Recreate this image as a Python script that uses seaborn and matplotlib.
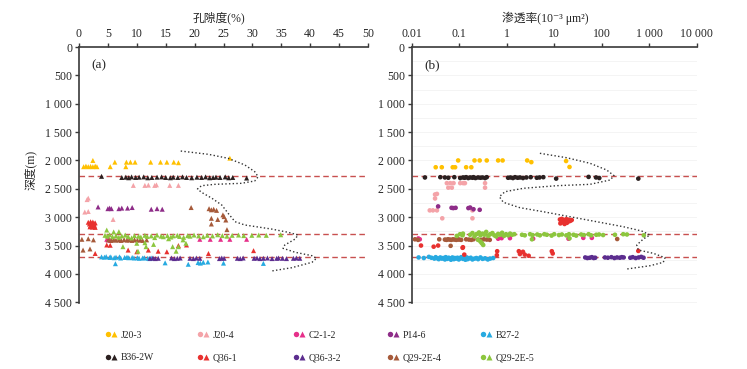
import numpy as np
import pandas as pd
import matplotlib
matplotlib.use("Agg")
import matplotlib.pyplot as plt
import seaborn as sns
from matplotlib.lines import Line2D
from matplotlib.legend_handler import HandlerTuple
from matplotlib.ticker import FuncFormatter, MultipleLocator, NullLocator

sns.set_style("ticks")
plt.rcParams["font.family"] = ["Liberation Serif", "Noto Sans CJK SC", "DejaVu Sans"]

#%% Data

wells = ["J20-3", "J20-4", "C2-1-2", "P14-6", "B27-2",
         "B36-2W", "Q36-1", "Q36-3-2", "Q29-2E-4", "Q29-2E-5"]
colors = ["#ffc000", "#f4a3a8", "#e6308a", "#8e2c88", "#27aae1",
          "#2b2020", "#e8312f", "#5c2d8f", "#a65a3a", "#8cc63e"]

# porosity (%) and depth (m)
por_j20_3 = [0.8, 1.2, 1.6, 2.0, 2.4, 2.8, 3.1, 2.4, 5.4, 8.1, 6.2, 8.2, 8.9, 9.7, 12.4, 14.1, 15.2, 16.4, 17.2, 26.1]
dpor_j20_3 = [2110, 2100, 2110, 2105, 2110, 2100, 2110, 2000, 2110, 2110, 2030, 2030, 2030, 2030, 2030, 2030, 2030, 2030, 2040, 1960]
por_j20_4 = [9.4, 11.4, 12.0, 13.1, 13.4, 15.7, 17.2, 1.6, 1.4, 1.0, 1.6, 5.9]
dpor_j20_4 = [2440, 2440, 2435, 2440, 2430, 2440, 2440, 2665, 2690, 2910, 2900, 3040]
por_c2_1_2 = [4.8, 5.0, 5.2, 5.4, 20.9, 22.7, 24.5, 26.1, 29.0]
dpor_c2_1_2 = [3390, 3400, 3380, 3410, 3390, 3390, 3390, 3390, 3390]
por_p14_6 = [3.3, 5.0, 5.3, 5.6, 6.9, 7.4, 8.4, 9.2, 12.5, 13.5, 14.4]
dpor_p14_6 = [2820, 2850, 2840, 2850, 2850, 2840, 2840, 2830, 2860, 2850, 2860]
por_b27_2 = [3.9, 4.4, 4.7, 5.3, 5.5, 6.1, 6.4, 7.0, 7.2, 7.9, 8.3, 8.6, 9.2, 9.5, 10.1,
             10.4, 11.0, 11.3, 11.9, 12.2, 12.6, 6.3, 14.9, 18.9, 20.6, 21.0, 21.5, 22.3, 25.0, 31.9]
dpor_b27_2 = [3700, 3705, 3695, 3710, 3700, 3715, 3705, 3700, 3720, 3710, 3705, 3715, 3710, 3720, 3715,
              3725, 3720, 3715, 3725, 3730, 3720, 3820, 3805, 3830, 3800, 3810, 3795, 3790, 3810, 3815]
por_b36_2w = [3.9, 7.4, 8.1, 8.6, 9.1, 9.8, 10.4, 11.2, 11.9, 12.6, 13.5, 14.3, 15.0, 15.8, 16.3,
              17.1, 17.9, 18.6, 19.5, 20.4, 21.2, 21.9, 22.6, 23.2, 23.7, 24.4, 25.3, 25.9, 26.6, 29.0]
dpor_b36_2w = [2280, 2300, 2295, 2305, 2290, 2300, 2295, 2290, 2305, 2300, 2295, 2290, 2300, 2305, 2295,
               2300, 2290, 2300, 2305, 2295, 2300, 2290, 2305, 2300, 2295, 2300, 2290, 2305, 2300, 2310]
por_q36_1 = [1.6, 2.0, 2.4, 2.8, 1.8, 2.2, 2.6, 2.0, 2.4, 1.9, 2.3, 2.7, 2.1, 2.6, 2.8,
             2.8, 4.8, 5.4, 8.5, 10.0, 12.0, 13.7, 15.2, 17.2, 18.6, 22.4, 30.2]
dpor_q36_1 = [3090, 3080, 3085, 3100, 3120, 3110, 3130, 3150, 3150, 3170, 3175, 3160, 3140, 3110, 3180,
              3640, 3490, 3495, 3580, 3610, 3580, 3600, 3610, 3500, 3490, 3640, 3590]
por_q36_3_2 = [12.3, 12.8, 13.2, 13.7, 16.0, 16.5, 17.0, 17.5, 19.2, 19.8, 20.3, 20.9, 24.3, 24.7, 25.1,
               27.4, 27.9, 28.4, 30.3, 30.8, 31.3, 31.9, 32.6, 33.4, 34.2, 34.5, 35.2, 35.9, 37.1, 37.6, 38.2]
dpor_q36_3_2 = [3725, 3720, 3730, 3725, 3720, 3730, 3725, 3720, 3725, 3730, 3720, 3725, 3730, 3720, 3725,
                3725, 3730, 3720, 3725, 3720, 3730, 3725, 3720, 3730, 3725, 3720, 3725, 3730, 3725, 3720, 3725]
por_q29_2e_4 = [0.5, 1.6, 2.5, 0.7, 1.9, 5.1, 5.6, 6.0, 6.4, 6.9, 7.3, 7.8, 8.3, 8.7, 9.2, 9.6,
                10.1, 10.6, 11.0, 11.7, 19.4, 22.5, 22.9, 23.3, 23.8, 24.0, 24.9, 25.1, 22.9, 25.4, 25.6, 22.9]
dpor_q29_2e_4 = [3390, 3380, 3400, 3580, 3560, 3400, 3410, 3395, 3405, 3400, 3410, 3395, 3405, 3400, 3410, 3395,
                 3405, 3400, 3410, 3400, 2830, 2850, 2870, 2860, 2880, 3040, 2960, 2990, 3020, 3050, 3220, 3120]
por_q29_2e_5 = [4.5, 4.9, 5.3, 5.8, 6.4, 6.9, 7.4, 8.0, 8.5, 9.1, 9.6, 10.3, 10.7, 11.4, 11.8,
                12.5, 13.1, 13.5, 14.2, 14.6, 15.3, 15.9, 16.3, 17.0, 17.4, 18.1, 18.8, 19.2, 19.9, 20.7,
                21.5, 22.2, 23.1, 24.0, 24.8, 25.6, 26.5, 27.6, 28.5, 29.9, 31.1, 32.4, 34.9,
                4.8, 6.0, 6.9, 7.6, 10.0, 10.2, 11.4, 11.6, 12.9, 15.5, 16.2, 16.8, 17.2, 18.0, 18.5]
dpor_q29_2e_5 = [3320, 3335, 3310, 3345, 3325, 3355, 3330, 3315, 3340, 3365, 3325, 3335, 3350, 3320, 3340,
                 3330, 3360, 3315, 3335, 3345, 3325, 3350, 3330, 3320, 3340, 3355, 3325, 3335, 3315, 3330,
                 3345, 3320, 3330, 3310, 3325, 3335, 3320, 3315, 3325, 3320, 3315, 3320, 3310,
                 3227, 3260, 3256, 3520, 3460, 3600, 3450, 3520, 3480, 3380, 3520, 3600, 3520, 3400, 3460]

# permeability (10^-3 um^2) and depth (m)
perm_j20_3 = [0.095, 0.21, 0.27, 0.38, 0.66, 0.82, 2.7, 3.3, 0.032, 0.043, 0.073, 0.082, 0.14, 0.18, 17.8, 21.0]
dperm_j20_3 = [2000, 2000, 2000, 2000, 2000, 2000, 2000, 2030, 2120, 2120, 2120, 2120, 2120, 2120, 2010, 2115]
perm_j20_4 = [0.055, 0.065, 0.076, 0.105, 0.122, 0.132, 0.35, 0.059, 0.07, 0.35, 0.031, 0.034, 0.031, 0.024, 0.028,
              0.034, 0.19, 0.044, 0.19]
dperm_j20_4 = [2400, 2400, 2400, 2400, 2400, 2400, 2400, 2480, 2480, 2480, 2600, 2590, 2670, 2880, 2880,
               2880, 2880, 3020, 3020]
perm_c2_1_2 = [0.0138, 0.0148, 0.66, 0.78, 1.17, 3.6, 20.0, 41.0, 62.0]
dperm_c2_1_2 = [3375, 3390, 3380, 3370, 3370, 3380, 3380, 3365, 3365]
perm_p14_6 = [0.036, 0.069, 0.075, 0.084, 0.156, 0.17, 0.2, 0.27]
dperm_p14_6 = [2810, 2835, 2840, 2835, 2840, 2830, 2860, 2870]
perm_b27_2 = [0.014, 0.018, 0.023, 0.026, 0.03, 0.032, 0.035, 0.037, 0.04, 0.043, 0.046, 0.05, 0.052, 0.056,
              0.06, 0.063, 0.067, 0.072, 0.077, 0.081, 0.086, 0.092, 0.098, 0.105, 0.11, 0.12, 0.125, 0.135,
              0.145, 0.15, 0.165, 0.175, 0.19, 0.21, 0.23, 0.25, 0.28, 0.31, 0.35, 0.4, 0.45, 0.52]
dperm_b27_2 = [3710, 3720, 3700, 3715, 3730, 3705, 3725, 3740, 3710, 3730, 3720, 3745, 3705, 3735,
               3715, 3725, 3750, 3710, 3740, 3720, 3730, 3715, 3745, 3725, 3705, 3735, 3720, 3750,
               3710, 3740, 3725, 3715, 3745, 3730, 3720, 3740, 3710, 3735, 3725, 3745, 3730, 3720]
perm_b36_2w = [0.019, 0.040, 0.050, 0.059, 0.079, 0.105, 0.12, 0.13, 0.14, 0.155, 0.17, 0.19, 0.2, 0.22,
               0.25, 0.28, 0.31, 0.35, 0.38, 1.07, 1.2, 1.35, 1.5, 1.7, 1.9, 2.2, 2.6, 3.2, 4.3, 4.9,
               5.9, 11.0, 53.0, 76.0, 89.0, 590.0]
dperm_b36_2w = [2300, 2295, 2300, 2305, 2295, 2310, 2300, 2305, 2295, 2310, 2300, 2305, 2295, 2310,
                2300, 2305, 2300, 2310, 2295, 2305, 2300, 2310, 2295, 2305, 2300, 2310, 2300, 2295, 2305, 2300,
                2295, 2320, 2290, 2300, 2310, 2320]
perm_q36_1 = [13.2, 14.5, 16.0, 18.0, 20.0, 22.0, 23.4, 14.0, 15.5, 17.0, 19.0, 21.0, 13.5, 16.5, 18.5,
              0.0157, 0.036, 0.029, 0.118, 0.12, 0.128, 0.62, 0.63, 1.8, 1.9, 2.2, 2.4, 2.9, 8.9, 9.3, 590.0]
dperm_q36_1 = [3040, 3030, 3050, 3035, 3045, 3060, 3050, 3080, 3090, 3075, 3085, 3070, 3110, 3120, 3100,
               3500, 3500, 3520, 3540, 3530, 3660, 3670, 3600, 3600, 3650, 3610, 3660, 3680, 3600, 3640, 3595]
perm_q36_3_2 = [45, 50, 56, 62, 68, 73, 117, 135, 160, 185, 210, 240, 265, 290, 400, 450, 520, 600, 680, 760]
dperm_q36_3_2 = [3710, 3720, 3715, 3705, 3720, 3715, 3710, 3715, 3705, 3720,
                 3710, 3715, 3705, 3710, 3715, 3705, 3720, 3710, 3700, 3715]
perm_q29_2e_4 = [0.0117, 0.0136, 0.038, 0.050, 0.054, 0.058, 0.063, 0.068, 0.074, 0.080, 0.087, 0.094, 0.100,
                 0.110, 0.140, 0.160, 0.180, 0.200, 0.250, 0.290, 0.330, 0.380, 0.440, 0.066, 212.0]
dperm_q29_2e_4 = [3390, 3400, 3390, 3395, 3400, 3390, 3395, 3400, 3390, 3395, 3400, 3390, 3395,
                  3400, 3390, 3395, 3400, 3390, 3395, 3400, 3390, 3395, 3400, 3505, 3385]
perm_q29_2e_5 = [0.089, 0.104, 0.118, 0.12, 0.17, 0.19, 0.21, 0.23, 0.26, 0.28, 0.31, 0.34, 0.37, 0.41, 0.45,
                 0.5, 0.55, 0.6, 0.66, 0.73, 0.8, 0.88, 0.97, 1.07, 1.18, 1.3, 1.45, 2.1, 2.4, 3.1,
                 3.5, 4.4, 5.0, 6.2, 7.0, 8.8, 10.0, 12.6, 14.5, 18.0, 20.5, 25.5, 29.0, 37.0, 42.0,
                 53.0, 60.0, 77.0, 88.0, 107.0, 190.0, 284.0, 340.0, 770.0,
                 0.25, 0.28, 0.32, 0.30, 3.4, 21.0]
dperm_q29_2e_5 = [3330, 3300, 3320, 3290, 3310, 3280, 3340, 3300, 3270, 3320, 3290, 3310, 3260, 3330, 3300,
                  3280, 3320, 3340, 3295, 3310, 3275, 3330, 3300, 3320, 3290, 3310, 3300, 3310, 3320, 3300,
                  3315, 3305, 3320, 3300, 3310, 3325, 3300, 3315, 3305, 3320, 3300, 3310, 3325, 3305, 3315,
                  3300, 3320, 3310, 3305, 3315, 3310, 3300, 3305, 3320,
                  3400, 3430, 3490, 3460, 3390, 3373]

por_all = [por_j20_3, por_j20_4, por_c2_1_2, por_p14_6, por_b27_2,
           por_b36_2w, por_q36_1, por_q36_3_2, por_q29_2e_4, por_q29_2e_5]
dpor_all = [dpor_j20_3, dpor_j20_4, dpor_c2_1_2, dpor_p14_6, dpor_b27_2,
            dpor_b36_2w, dpor_q36_1, dpor_q36_3_2, dpor_q29_2e_4, dpor_q29_2e_5]
perm_all = [perm_j20_3, perm_j20_4, perm_c2_1_2, perm_p14_6, perm_b27_2,
            perm_b36_2w, perm_q36_1, perm_q36_3_2, perm_q29_2e_4, perm_q29_2e_5]
dperm_all = [dperm_j20_3, dperm_j20_4, dperm_c2_1_2, dperm_p14_6, dperm_b27_2,
             dperm_b36_2w, dperm_q36_1, dperm_q36_3_2, dperm_q29_2e_4, dperm_q29_2e_5]

# boundary depths (red dashed) and the dotted trend curves
boundary_depths = [2280, 3300, 3710]
curve_por = [17.6, 22.4, 25.8, 28.7, 30.4, 31.0, 30.4, 28.1, 23.5, 21.2, 20.5, 21.2, 23.0, 24.7, 25.8,
             27.0, 28.7, 33.3, 36.2, 37.9, 37.4, 35.6, 35.3, 37.4, 40.3, 41.1, 40.3, 36.8, 33.3]
curve_por_depth = [1834, 1892, 1962, 2080, 2198, 2287, 2362, 2403, 2421, 2445, 2503, 2562, 2667, 2786, 2932,
                   3080, 3138, 3209, 3267, 3314, 3385, 3491, 3549, 3619, 3679, 3725, 3796, 3891, 3949]
curve_perm = [5.0, 18.3, 56.7, 127, 182, 150, 56.7, 11.3, 2.24, 0.92, 0.70, 0.85, 1.9, 5.9, 21.5,
              92, 285, 695, 1040, 752, 546, 590, 1220, 2150, 1980, 1040, 336]
curve_perm_depth = [1874, 1952, 2050, 2168, 2269, 2345, 2421, 2445, 2491, 2551, 2639, 2738, 2833, 2904, 2992,
                    3091, 3168, 3244, 3314, 3385, 3491, 3579, 3637, 3715, 3796, 3856, 3914]

df_por = pd.concat([pd.DataFrame({"well": w, "val": v, "depth": d})
                    for w, v, d in zip(wells, por_all, dpor_all)], ignore_index=True)
df_perm = pd.concat([pd.DataFrame({"well": w, "val": v, "depth": d})
                     for w, v, d in zip(wells, perm_all, dperm_all)], ignore_index=True)

#%% Figure

W, H = 747, 369
fig = plt.figure(figsize=(W / 100, H / 100), dpi=100)
top_px, bot_px = 47, 303.4
ax1 = fig.add_axes([79 / W, 1 - bot_px / H, 289 / W, (bot_px - top_px) / H])
ax2 = fig.add_axes([411.7 / W, 1 - bot_px / H, 285 / W, (bot_px - top_px) / H])

sns.scatterplot(data=df_por, x="val", y="depth", hue="well", hue_order=wells, palette=colors,
                marker="^", s=13, linewidth=0, legend=False, ax=ax1, zorder=3)
sns.scatterplot(data=df_perm, x="val", y="depth", hue="well", hue_order=wells, palette=colors,
                marker="o", s=11, linewidth=0, legend=False, ax=ax2, zorder=3)

ax1.plot(curve_por, curve_por_depth, ls=":", color="#333333", lw=1.0, zorder=4)
ax2.plot(curve_perm, curve_perm_depth, ls=":", color="#333333", lw=1.0, zorder=4)

ax2.set_xscale("log")
ax1.set_xlim(0, 50)
ax2.set_xlim(0.01, 10000)
ax1.set_xticks(np.arange(0, 51, 5))
ax2.set_xticks([0.01, 0.1, 1, 10, 100, 1000, 10000])
ax2.set_xticklabels(["0.01", "0.1", "1", "10", "100", "1 000", "10 000"])
ax2.xaxis.set_minor_locator(NullLocator())

thousands = FuncFormatter(lambda v, p: f"{int(v):,}".replace(",", " "))
for ax in (ax1, ax2):
    ax.set_ylim(4520, 0)
    ax.set_yticks(np.arange(0, 4501, 500))
    ax.yaxis.set_major_formatter(thousands)
    ax.xaxis.tick_top()
    ax.set_xlabel("")
    ax.set_ylabel("")
    for b in boundary_depths:
        ax.axhline(b, color="#c8504f", ls=(0, (4, 2.5)), lw=1.0, zorder=2)
    ax.spines["right"].set_visible(False)
    ax.spines["bottom"].set_visible(False)
    ax.spines["top"].set_color("#3a3a3a")
    ax.spines["left"].set_color("#3a3a3a")
    ax.spines["top"].set_linewidth(1.2)
    ax.spines["left"].set_linewidth(1.2)
    ax.tick_params(axis="both", which="major", labelsize=8.5, length=3, width=1,
                   color="#3a3a3a", pad=2)

# very faint horizontal grid in panel (b)
ax2.yaxis.set_minor_locator(MultipleLocator(250))
ax2.tick_params(axis="y", which="minor", length=0)
ax2.grid(axis="y", which="both", color="#f3f3f3", lw=0.6, zorder=0)

ax1.text(0.044, 0.93, "(a)", transform=ax1.transAxes, fontsize=9.5, va="center")
ax2.text(0.043, 0.93, "(b)", transform=ax2.transAxes, fontsize=9.5, va="center")

fig.text(218.5 / W, 1 - 18 / H, "孔隙度(%)", ha="center", va="center", fontsize=8.5)
fig.text(545 / W, 1 - 18 / H, "渗透率(10⁻³ μm²)", ha="center", va="center", fontsize=8.5)
fig.text(30 / W, 1 - 170 / H, "深度(m)", ha="center", va="center", rotation=90, fontsize=8.5)

#%% Legend - circle + triangle per well, 5 columns x 2 rows

pairs = [(Line2D([], [], ls="none", marker="o", ms=3.9, mfc=c, mec="none"),
          Line2D([], [], ls="none", marker="^", ms=4.3, mfc=c, mec="none")) for c in colors]
col_x = [105, 197, 293, 387, 480]
for i in range(5):
    fig.legend([pairs[i], pairs[i + 5]], [wells[i], wells[i + 5]],
               loc="upper left", bbox_to_anchor=(col_x[i] / W, 1 - 330.5 / H),
               frameon=False, fontsize=7, handlelength=1.2, handletextpad=0.4,
               labelspacing=1.4, borderpad=0, borderaxespad=0,
               handler_map={tuple: HandlerTuple(ndivide=None, pad=0.1)})

fig.savefig("out.png", dpi=100)
